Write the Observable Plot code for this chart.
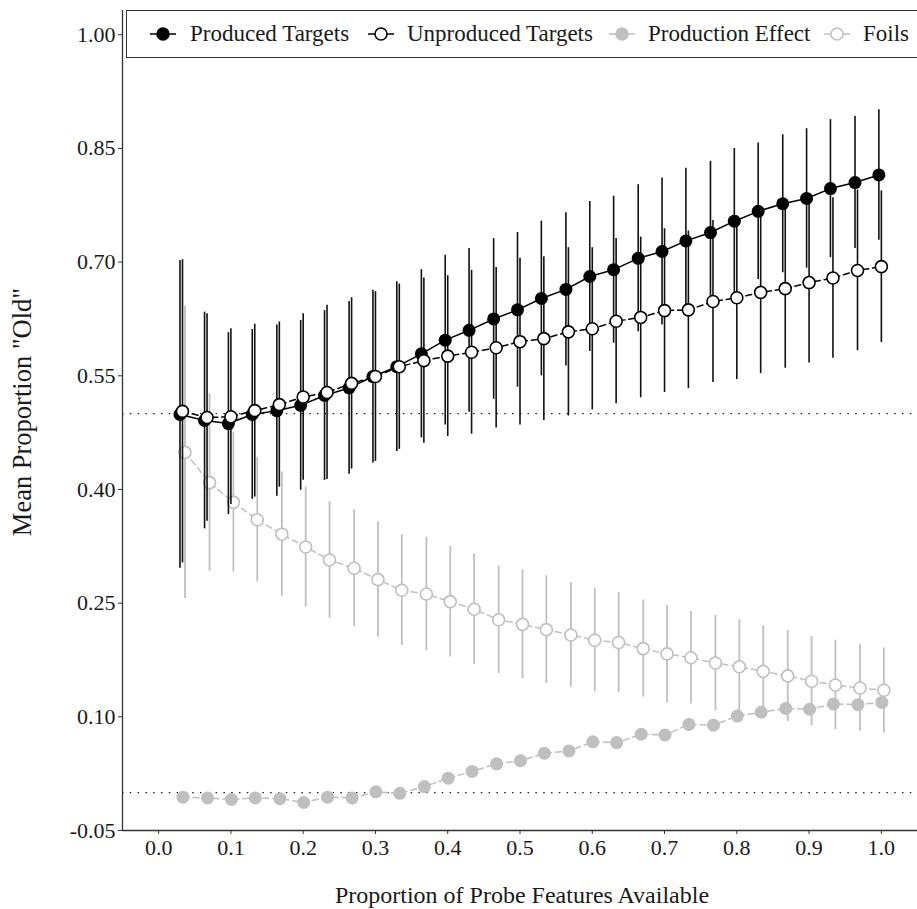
<!DOCTYPE html>
<html>
<head>
<meta charset="utf-8">
<script src="https://cdn.jsdelivr.net/npm/d3@7"></script>
<script src="https://cdn.jsdelivr.net/npm/@observablehq/plot@0.6"></script>
<style>
  html, body { margin: 0; padding: 0; background: #fff; overflow: hidden; }
  #wrap { position: relative; width: 917px; height: 909px; }
  #legend { position: absolute; left: 126px; top: 10px; width: 820px; height: 48px;
            border: 1.3px solid #333; background: #fff; box-sizing: border-box; }
  .key { position: absolute; top: 13px; }
  .lab { position: absolute; top: 0; height: 46px; line-height: 46px;
         font-family: "Liberation Serif", serif; font-size: 23px; color: #1a1a1a; white-space: nowrap; }
</style>
</head>
<body>
<div id="wrap">
  <div id="chart"></div>
  <div id="legend"></div>
</div>
<script>
// Categories: proportion of probe features available
const xs = [0.033, 0.067, 0.100, 0.133, 0.167, 0.200, 0.233, 0.267, 0.300, 0.333,
            0.367, 0.400, 0.433, 0.467, 0.500, 0.533, 0.567, 0.600, 0.633, 0.667,
            0.700, 0.733, 0.767, 0.800, 0.833, 0.867, 0.900, 0.933, 0.967, 1.000];

// Produced Targets: means and error half-widths
const produced = [0.499, 0.491, 0.487, 0.499, 0.504, 0.511, 0.524, 0.534, 0.549, 0.562,
                  0.579, 0.597, 0.610, 0.625, 0.637, 0.652, 0.664, 0.681, 0.690, 0.705,
                  0.714, 0.728, 0.739, 0.754, 0.767, 0.777, 0.784, 0.797, 0.805, 0.815];
const producedErr = [0.203, 0.143, 0.120, 0.112, 0.113, 0.112, 0.112, 0.114, 0.114, 0.112,
                     0.111, 0.112, 0.108, 0.106, 0.102, 0.102, 0.101, 0.099, 0.097, 0.097,
                     0.097, 0.096, 0.094, 0.096, 0.090, 0.091, 0.092, 0.091, 0.087, 0.086];

// Unproduced Targets
const unproduced = [0.503, 0.495, 0.496, 0.504, 0.512, 0.522, 0.528, 0.540, 0.549, 0.562,
                    0.570, 0.576, 0.581, 0.587, 0.595, 0.599, 0.608, 0.612, 0.622, 0.627,
                    0.636, 0.637, 0.648, 0.653, 0.660, 0.665, 0.673, 0.679, 0.689, 0.694];
const unproducedErr = [0.200, 0.137, 0.116, 0.114, 0.109, 0.110, 0.115, 0.113, 0.112, 0.109,
                       0.109, 0.106, 0.108, 0.106, 0.110, 0.108, 0.111, 0.107, 0.109, 0.106,
                       0.108, 0.104, 0.107, 0.108, 0.107, 0.105, 0.106, 0.106, 0.106, 0.100];

// Production Effect
const effect = [-0.006, -0.007, -0.009, -0.007, -0.008, -0.013, -0.006, -0.007, 0.001, -0.001,
                0.008, 0.019, 0.028, 0.038, 0.042, 0.052, 0.055, 0.067, 0.066, 0.077,
                0.076, 0.090, 0.089, 0.101, 0.106, 0.111, 0.110, 0.117, 0.116, 0.119];

// Foils
const foils = [0.449, 0.409, 0.383, 0.360, 0.341, 0.324, 0.307, 0.296, 0.281, 0.267,
               0.262, 0.252, 0.242, 0.228, 0.222, 0.215, 0.208, 0.201, 0.198, 0.190,
               0.183, 0.178, 0.171, 0.166, 0.160, 0.154, 0.147, 0.142, 0.138, 0.135];
const foilsErr = [0.193, 0.117, 0.092, 0.082, 0.082, 0.079, 0.077, 0.077, 0.076, 0.073,
                  0.075, 0.073, 0.073, 0.071, 0.072, 0.071, 0.069, 0.068, 0.066, 0.064,
                  0.064, 0.061, 0.063, 0.062, 0.060, 0.060, 0.059, 0.059, 0.057, 0.056];

// Tick labels
const xTicks = [0.0, 0.1, 0.2, 0.3, 0.4, 0.5, 0.6, 0.7, 0.8, 0.9, 1.0];
const yTicks = [-0.05, 0.10, 0.25, 0.40, 0.55, 0.70, 0.85, 1.00];
const refLines = [0.5, 0];

const seriesNames = ["Produced Targets", "Unproduced Targets", "Production Effect", "Foils"];

const rows = xs.map((x, i) => ({
  x,
  p: produced[i], pLo: produced[i] - producedErr[i], pHi: produced[i] + producedErr[i],
  u: unproduced[i], uLo: unproduced[i] - unproducedErr[i], uHi: unproduced[i] + unproducedErr[i],
  e: effect[i],
  f: foils[i], fLo: foils[i] - foilsErr[i], fHi: foils[i] + foilsErr[i]
}));

const GRAY = "#bfbfbf";
const FONT = "Liberation Serif";

const chart = Plot.plot({
  width: 917,
  height: 909,
  marginLeft: 122,
  marginRight: 0,
  marginTop: 10,
  marginBottom: 79,
  style: { fontFamily: FONT, fontSize: "22px", color: "#1a1a1a", background: "#fff" },
  x: { domain: [-0.05, 1.05] },
  y: { domain: [-0.05, 1.032] },
  marks: [
    Plot.ruleY(refLines, { stroke: "#222", strokeWidth: 1.3, strokeDasharray: "1.5,6.3" }),
    // Foils & production effect
    Plot.ruleX(rows, { x: "x", y1: "fLo", y2: "fHi", stroke: GRAY, strokeWidth: 1.8, dx: 2.5 }),
    Plot.line(rows, { x: "x", y: "e", stroke: GRAY, strokeWidth: 1.5, strokeDasharray: "6,4", dx: 0.5 }),
    Plot.line(rows, { x: "x", y: "f", stroke: GRAY, strokeWidth: 1.5, strokeDasharray: "6,4", dx: 2.5 }),
    Plot.dot(rows, { x: "x", y: "e", r: 6.5, fill: GRAY, stroke: "none", dx: 0.5 }),
    Plot.dot(rows, { x: "x", y: "f", r: 6, fill: "white", stroke: GRAY, strokeWidth: 1.6, dx: 2.5 }),
    // Targets
    Plot.ruleX(rows, { x: "x", y1: "pLo", y2: "pHi", stroke: "#111", strokeWidth: 1.6, dx: -2.5 }),
    Plot.ruleX(rows, { x: "x", y1: "uLo", y2: "uHi", stroke: "#111", strokeWidth: 1.6, dx: 0 }),
    Plot.line(rows, { x: "x", y: "p", stroke: "#000", strokeWidth: 1.5, dx: -2.5 }),
    Plot.line(rows, { x: "x", y: "u", stroke: "#000", strokeWidth: 1.5, strokeDasharray: "6,4", dx: 0 }),
    Plot.dot(rows, { x: "x", y: "p", r: 6.5, fill: "#000", stroke: "none", dx: -2.5 }),
    Plot.dot(rows, { x: "x", y: "u", r: 6, fill: "white", stroke: "#000", strokeWidth: 1.6, dx: 0 }),
    // Axes
    Plot.axisX({ ticks: xTicks, tickFormat: d => d.toFixed(1), tickSize: 4, tickPadding: 5,
                 fontSize: 22, label: null, stroke: "#333" }),
    Plot.axisY({ ticks: yTicks, tickFormat: d => d.toFixed(2), tickSize: 4, tickPadding: 3,
                 fontSize: 22, label: null, stroke: "#333" }),
    Plot.ruleX([-0.05], { stroke: "#333", strokeWidth: 1.3 }),
    Plot.ruleY([-0.05], { stroke: "#333", strokeWidth: 1.3 })
  ]
});

document.getElementById("chart").appendChild(chart);

// Axis titles
const svg = d3.select(chart);
svg.append("text")
  .attr("x", 522).attr("y", 903)
  .attr("text-anchor", "middle")
  .style("font-family", FONT).style("font-size", "24px").attr("fill", "#1a1a1a")
  .text("Proportion of Probe Features Available");
svg.append("text")
  .attr("transform", "translate(31,412) rotate(-90)")
  .attr("text-anchor", "middle")
  .style("font-family", FONT).style("font-size", "26.5px").attr("fill", "#1a1a1a")
  .text("Mean Proportion \"Old\"");

// Legend (HTML overlay inside plot panel)
const legendSpecs = [
  { key: 36,  text: 63,  fill: "#000", stroke: "#000" },
  { key: 254, text: 280, fill: "#fff", stroke: "#000" },
  { key: 495, text: 521, fill: GRAY,   stroke: GRAY },
  { key: 710, text: 736, fill: "#fff", stroke: GRAY }
];
const legend = document.getElementById("legend");
seriesNames.forEach((name, i) => {
  const s = legendSpecs[i];
  const k = document.createElement("div");
  k.className = "key";
  k.style.left = (s.key - 14) + "px";
  k.innerHTML =
    `<svg width="28" height="20"><line x1="1" y1="10" x2="27" y2="10" stroke="${s.stroke}" stroke-width="1.5"/>` +
    `<circle cx="14" cy="10" r="6" fill="${s.fill}" stroke="${s.stroke}" stroke-width="1.5"/></svg>`;
  legend.appendChild(k);
  const t = document.createElement("div");
  t.className = "lab";
  t.style.left = s.text + "px";
  t.textContent = name;
  legend.appendChild(t);
});
</script>
</body>
</html>
